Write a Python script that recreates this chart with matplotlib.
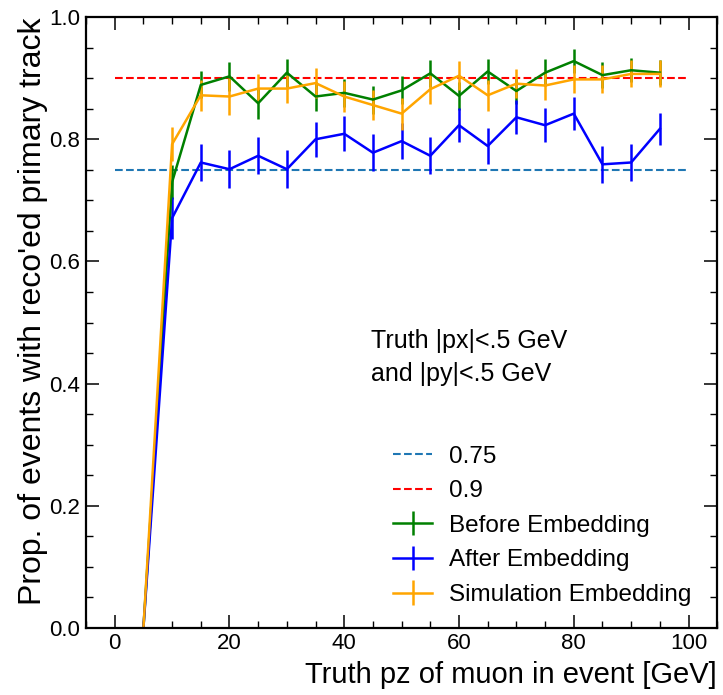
import numpy as np
import matplotlib
matplotlib.use("Agg")
import matplotlib.pyplot as plt
from matplotlib.ticker import MultipleLocator

plt.rcParams['font.family'] = ['Liberation Sans', 'DejaVu Sans']

# --- data ---
pz = [5, 10, 15, 20, 25, 30, 35, 40, 45, 50, 55, 60, 65, 70, 75, 80, 85, 90, 95]

before = [0.0, 0.730, 0.889, 0.903, 0.859, 0.909, 0.870, 0.876, 0.865, 0.880,
          0.908, 0.871, 0.911, 0.879, 0.909, 0.928, 0.905, 0.913, 0.909]
before_err = [0.0, 0.028, 0.022, 0.024, 0.025, 0.023, 0.024, 0.023, 0.023, 0.023,
              0.022, 0.023, 0.021, 0.022, 0.022, 0.020, 0.021, 0.020, 0.020]

after = [0.0, 0.671, 0.762, 0.751, 0.773, 0.751, 0.800, 0.809, 0.778, 0.797,
         0.773, 0.823, 0.789, 0.836, 0.823, 0.842, 0.759, 0.762, 0.817]
after_err = [0.0, 0.034, 0.031, 0.031, 0.030, 0.031, 0.029, 0.029, 0.030, 0.029,
             0.030, 0.028, 0.029, 0.028, 0.028, 0.027, 0.030, 0.030, 0.026]

sim = [0.0, 0.792, 0.872, 0.870, 0.883, 0.883, 0.892, 0.870, 0.856, 0.842,
       0.882, 0.904, 0.872, 0.891, 0.888, 0.898, 0.898, 0.907, 0.907]
sim_err = [0.0, 0.028, 0.025, 0.031, 0.024, 0.023, 0.024, 0.025, 0.025, 0.026,
           0.024, 0.024, 0.025, 0.024, 0.024, 0.023, 0.023, 0.022, 0.022]

fig = plt.figure(figsize=(7.23, 6.95), dpi=100)
ax = fig.add_axes([0.119, 0.0964, 0.873, 0.879])

ax.hlines(0.75, 0, 100, colors='tab:blue', linestyles='--', linewidth=1.5, label='0.75')
ax.hlines(0.9, 0, 100, colors='red', linestyles='--', linewidth=1.5, label='0.9')
ax.errorbar(pz, before, yerr=before_err, color='green', lw=1.8, elinewidth=1.8, label='Before Embedding')
ax.errorbar(pz, after, yerr=after_err, color='blue', lw=1.8, elinewidth=1.8, label='After Embedding')
ax.errorbar(pz, sim, yerr=sim_err, color='orange', lw=1.8, elinewidth=1.8, label='Simulation Embedding')

ax.set_xlim(-5, 105)
ax.set_ylim(0, 1)
ax.xaxis.set_major_locator(MultipleLocator(20))
ax.xaxis.set_minor_locator(MultipleLocator(5))
ax.yaxis.set_major_locator(MultipleLocator(0.2))
ax.yaxis.set_minor_locator(MultipleLocator(0.05))
ax.tick_params(which='both', direction='in', top=True, right=True, labelsize=16)
ax.tick_params(which='major', length=9.5, width=1.1)
ax.tick_params(which='minor', length=5, width=1.0)
ax.tick_params(axis='y', pad=4)
for s in ax.spines.values():
    s.set_linewidth(1.6)

ax.set_xlabel('Truth pz of muon in event [GeV]', fontsize=21, loc='right', labelpad=5)
ax.set_ylabel("Prop. of events with reco'ed primary track", fontsize=23, loc='top', labelpad=1)

ax.text(44.7, 0.49, 'Truth |px|<.5 GeV\nand |py|<.5 GeV', fontsize=18, linespacing=1.5, va='top')
ax.legend(loc='lower right', frameon=False, fontsize=17.5, handlelength=1.6, handletextpad=0.7,
          labelspacing=0.52, borderpad=0.4, bbox_to_anchor=(0.994, 0.0))

fig.savefig('out.png', dpi=100)
